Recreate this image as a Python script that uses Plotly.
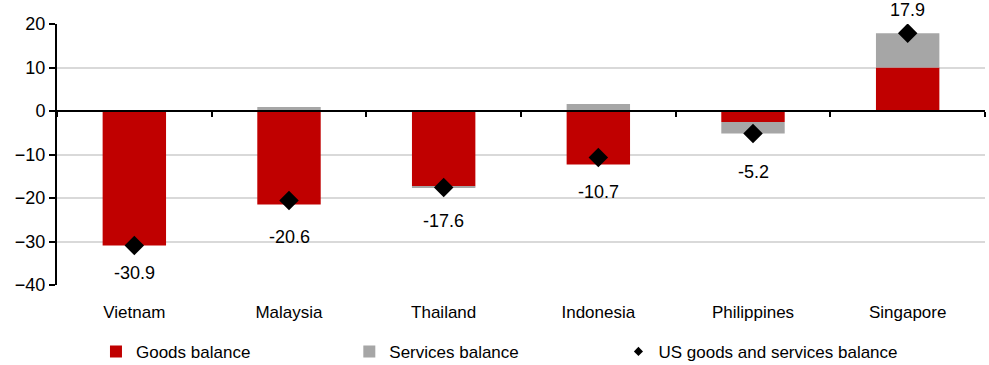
import plotly.graph_objects as go

# Trade balances by economy (US$ bn)
countries = ["Vietnam", "Malaysia", "Thailand", "Indonesia", "Philippines", "Singapore"]
goods_balance = [-30.9, -21.5, -17.3, -12.3, -2.5, 10.0]
services_balance = [0.0, 0.9, -0.3, 1.6, -2.7, 7.9]
total_balance = [-30.9, -20.6, -17.6, -10.7, -5.2, 17.9]
y_ticks = [-40, -30, -20, -10, 0, 10, 20]

# vertical pixel offsets for the value labels
label_shift = [-28, -36, -33, -34, -38, 23]

FONT = "Liberation Sans, Arial, sans-serif"
RED = "#C00000"
GREY = "#A6A6A6"

fig = go.Figure()
fig.add_trace(go.Bar(
    x=countries, y=goods_balance, name="Goods balance",
    marker=dict(color=RED, line=dict(width=0)), legend="legend",
))
fig.add_trace(go.Bar(
    x=countries, y=services_balance, name="Services balance",
    marker=dict(color=GREY, line=dict(width=0)), legend="legend2",
))
fig.add_trace(go.Scatter(
    x=countries, y=total_balance, mode="markers", xaxis="x2",
    marker=dict(symbol="diamond", size=15, color="black"),
    showlegend=False, hoverinfo="x+y",
))
# legend entry with a small diamond
fig.add_trace(go.Scatter(
    x=[None], y=[None], mode="markers", name="US goods and services balance",
    marker=dict(symbol="diamond", size=7, color="black"), legend="legend3",
))

for c, v, s in zip(countries, total_balance, label_shift):
    fig.add_annotation(
        x=c, y=v, xref="x", yref="y", text=f"{v:.1f}", showarrow=False,
        yshift=s, font=dict(family=FONT, size=18, color="black"),
    )

legend_common = dict(
    orientation="h", yref="container", yanchor="middle", y=0.036,
    xanchor="left",
    font=dict(family=FONT, size=17, color="black"),
    bgcolor="rgba(0,0,0,0)", itemclick=False, itemdoubleclick=False,
)

fig.update_layout(
    width=989, height=365,
    margin=dict(l=57, r=4, t=24, b=80),
    paper_bgcolor="white", plot_bgcolor="white",
    barmode="relative", bargap=0.59,
    font=dict(family=FONT, size=17, color="black"),
    xaxis=dict(
        type="category", range=[-0.5, 5.5], showline=False, showgrid=False,
        zeroline=False, ticks="outside", ticklen=12, tickcolor="rgba(0,0,0,0)",
        tickfont=dict(family=FONT, size=17, color="black"),
    ),
    xaxis2=dict(
        type="category", matches="x", overlaying="x", anchor="free",
        position=40 / 60, showline=True, linecolor="black", linewidth=2,
        ticks="outside", tickson="boundaries", ticklen=5, tickwidth=1.5,
        tickcolor="black", showticklabels=False, showgrid=False, zeroline=False,
    ),
    yaxis=dict(
        range=[-40, 20], tickvals=y_ticks, showline=True, linecolor="black",
        linewidth=2, ticks="outside", ticklen=6, tickwidth=2, tickcolor="black",
        showgrid=True, gridcolor="#D9D9D9", gridwidth=1.5, zeroline=False,
        tickfont=dict(family=FONT, size=18, color="black"),
    ),
    legend=dict(legend_common, x=0.042),
    legend2=dict(legend_common, x=0.315),
    legend3=dict(legend_common, x=0.605),
    showlegend=True,
)

fig.write_html("out.html")
